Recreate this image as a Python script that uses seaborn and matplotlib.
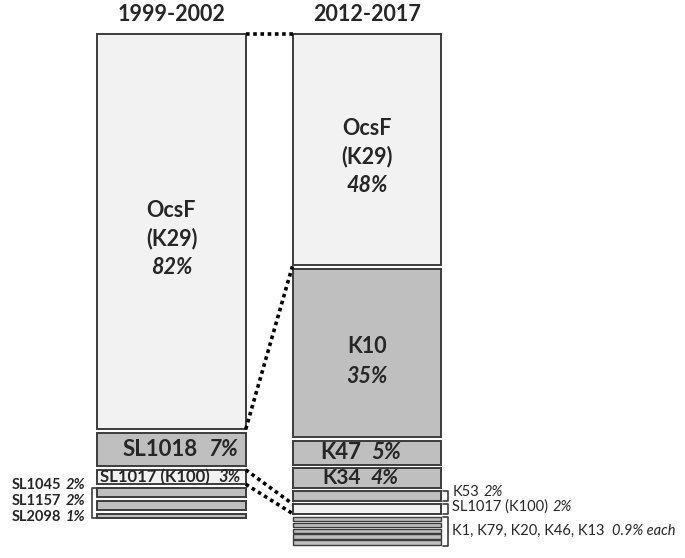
import matplotlib
matplotlib.use("Agg")
import matplotlib.pyplot as plt
import seaborn as sns

# ---------------------------------------------------------------------------
# data
# ---------------------------------------------------------------------------
PERIODS = ["1999-2002", "2012-2017"]

OLD_NAMES = ["OcsF\n(K29)", "SL1018", "SL1017 (K100)", "SL1045", "SL1157", "SL2098"]
OLD_PCT = [82, 7, 3, 2, 2, 1]
OLD_PCT_TEXT = ["82%", "7%", "3%", "2%", "2%", "1%"]

NEW_NAMES = ["OcsF\n(K29)", "K10", "K47", "K34", "K53", "SL1017 (K100)",
             "K1", "K79", "K20", "K46", "K13"]
NEW_PCT = [48, 35, 5, 4, 2, 2, 0.9, 0.9, 0.9, 0.9, 0.9]
NEW_PCT_TEXT = ["48%", "35%", "5%", "4%", "2%", "2%",
                "0.9%", "0.9%", "0.9%", "0.9%", "0.9%"]
SMALL_GROUP_TEXT = ("K1, K79, K20, K46, K13", "0.9% each")

# ---------------------------------------------------------------------------
# style
# ---------------------------------------------------------------------------
LIGHT = "#f2f2f2"
GRAY = "#bfbfbf"
EDGE = "#3c3c3c"
LIGHT_TYPES = {"OcsF\n(K29)", "SL1017 (K100)"}
BAR_W = 0.76
GAP = 0.7
SMALL_GAP = 0.3
PX = 1 / 195.5          # one pixel in x data units
BIG = 15
SMALL = 10.5

sns.set_theme(style="white")
plt.rcParams["font.family"] = ["Lato", "DejaVu Sans"]


def stack(pcts):
    """Top/bottom of each segment, stacked downwards with small gaps."""
    tops, bots = [], []
    y = 0.0
    for i, p in enumerate(pcts):
        if i > 0:
            y += SMALL_GAP if (p < 1 and pcts[i - 1] < 1) else GAP
        tops.append(y)
        y += p
        bots.append(y)
    return tops, bots


fig = plt.figure(figsize=(6.85, 5.58), dpi=100)
ax = fig.add_axes([0, 0, 1, 1])
ax.set_xlim(-0.877, 2.627)
ax.set_ylim(108.7, -7.05)
ax.axis("off")

old_top, old_bot = stack(OLD_PCT)
new_top, new_bot = stack(NEW_PCT)

for x, names, pcts, tops in [(0, OLD_NAMES, OLD_PCT, old_top),
                             (1, NEW_NAMES, NEW_PCT, new_top)]:
    colors = [LIGHT if n in LIGHT_TYPES else GRAY for n in names]
    widths = [1.0 if p < 1 else 1.4 for p in pcts]
    ax.bar([x] * len(pcts), pcts, bottom=tops, width=BAR_W, color=colors,
           edgecolor=EDGE, linewidth=widths, zorder=2)

L_R = 0 + BAR_W / 2      # right edge of old bar
R_L = 1 - BAR_W / 2      # left edge of new bar
R_R = 1 + BAR_W / 2
L_L = 0 - BAR_W / 2

# dotted connectors
dot = dict(color="black", linestyle=(0, (1, 1)), linewidth=2.6, zorder=3)
ax.plot([L_R, R_L], [old_top[0], new_top[0]], **dot)
ax.plot([L_R, R_L], [old_bot[0], new_bot[0]], **dot)
ax.plot([L_R, R_L], [old_top[2], new_top[5]], **dot)
ax.plot([L_R, R_L], [old_bot[2], new_bot[5]], **dot)

# titles
for x, t in enumerate(PERIODS):
    ax.text(x, -4.1, t, ha="center", va="center", fontsize=BIG + 0.5,
            fontweight="bold")


def stacked_lines(x, y, lines, styles, spacing=20.5, shift=5):
    n = len(lines)
    for i, (line, st) in enumerate(zip(lines, styles)):
        dy = (i - (n - 1) / 2) * spacing + shift
        ax.annotate(line, xy=(x, y), xytext=(0, -dy), textcoords="offset points",
                    ha="center", va="center", fontsize=BIG + 0.5,
                    fontweight="bold", fontstyle=st)


pairs = []


def pair_label(x, y, name, pct, size, ha, weight="bold", gap=5, dy=0):
    t1 = ax.annotate(name, xy=(x, y), xytext=(0, dy), textcoords="offset points",
                     ha="left", va="center", fontsize=size, fontweight=weight)
    t2 = ax.annotate(pct, xy=(1, 0.5), xycoords=t1, xytext=(gap, 0),
                     textcoords="offset points", ha="left", va="center",
                     fontsize=size, fontweight=weight, fontstyle="italic")
    pairs.append((t1, t2, ha, dy))


mid = lambda a, b: (a + b) / 2

# big labels inside bars
o_lines = OLD_NAMES[0].split("\n") + [OLD_PCT_TEXT[0]]
stacked_lines(0, mid(old_top[0], old_bot[0]), o_lines, ["normal", "normal", "italic"])
n_lines = NEW_NAMES[0].split("\n") + [NEW_PCT_TEXT[0]]
stacked_lines(1, mid(new_top[0], new_bot[0]), n_lines, ["normal", "normal", "italic"])
stacked_lines(1, mid(new_top[1], new_bot[1]), [NEW_NAMES[1], NEW_PCT_TEXT[1]],
              ["normal", "italic"], spacing=21.5, shift=6)

pair_label(L_R - 8 * PX, mid(old_top[1], old_bot[1]), OLD_NAMES[1], OLD_PCT_TEXT[1],
           BIG + 1, "right", gap=7)
pair_label(1 - 6 * PX, mid(new_top[2], new_bot[2]), NEW_NAMES[2], NEW_PCT_TEXT[2],
           BIG + 1, "center", gap=7)
pair_label(1 - 6 * PX, mid(new_top[3], new_bot[3]), NEW_NAMES[3], NEW_PCT_TEXT[3],
           BIG, "center", gap=7)

# SL1017 in old bar: name left, percent right
ax.text(L_L + 3 * PX, mid(old_top[2], old_bot[2]), OLD_NAMES[2], ha="left",
        va="center", fontsize=SMALL + 1.5, fontweight="bold", zorder=4)
ax.text(L_R - 5 * PX, mid(old_top[2], old_bot[2]), OLD_PCT_TEXT[2], ha="right",
        va="center", fontsize=SMALL + 1.5, fontweight="bold", fontstyle="italic",
        zorder=4)

# left bracket and side labels for the smallest old types
bk = dict(color=EDGE, linewidth=1.2)
bx = L_L - 5 * PX
ax.plot([L_L - 1 * PX, bx, bx, L_L - 1 * PX],
        [old_top[3], old_top[3], old_bot[5], old_bot[5]], **bk)
grp_mid = mid(old_top[3], old_bot[5])
for k, i in enumerate(range(3, 6)):
    pair_label(L_L - 12 * PX, grp_mid, OLD_NAMES[i], OLD_PCT_TEXT[i], SMALL,
               "right", gap=3, dy=(1 - k) * 11.8 + 1.5)


# right brackets and side labels
def right_bracket(top, bot):
    bx = R_R + 7 * PX
    ax.plot([R_R + 2 * PX, bx, bx, R_R + 2 * PX], [top, top, bot, bot], **bk)


for i, dy in ((4, 2.5), (5, 1.5)):
    right_bracket(new_top[i], new_bot[i])
    pair_label(R_R + 11 * PX, mid(new_top[i], new_bot[i]), NEW_NAMES[i],
               NEW_PCT_TEXT[i], SMALL, "left", weight="normal", gap=3, dy=dy)

right_bracket(new_top[6], new_bot[-1] + 0.4)
pair_label(R_R + 11 * PX, mid(new_top[6], new_bot[-1]), SMALL_GROUP_TEXT[0],
           SMALL_GROUP_TEXT[1], SMALL, "left", weight="normal", gap=5)

# shift paired labels to their alignment
fig.canvas.draw()
r = fig.canvas.get_renderer()
for t1, t2, ha, dy in pairs:
    w = t2.get_window_extent(r).x1 - t1.get_window_extent(r).x0
    w_pt = w * 72 / fig.dpi
    if ha == "center":
        t1.xyann = (-w_pt / 2, dy)
    elif ha == "right":
        t1.xyann = (-w_pt, dy)

fig.savefig("out.png", dpi=100)
